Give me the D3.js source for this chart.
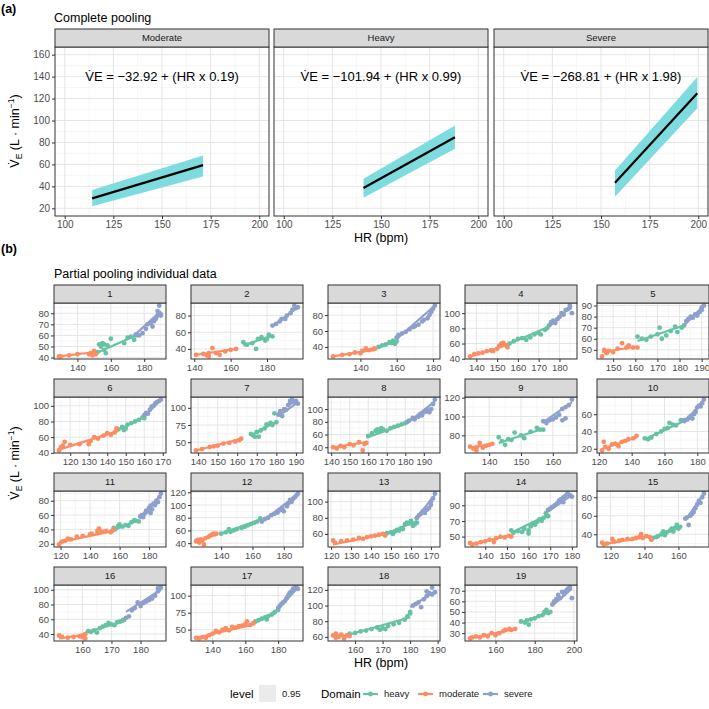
<!DOCTYPE html>
<html>
<head>
<meta charset="utf-8">
<script src="https://cdn.jsdelivr.net/npm/d3@7"></script>
<style>
body { margin: 0; background: #fff; }
text { font-family: "Liberation Sans", Arial, sans-serif; }
</style>
</head>
<body>
<div id="chart-area"></div>
<script>

// ---------- (a) complete pooling ----------
let poolNames = ["Moderate", "Heavy", "Severe"];
let poolEquations = ["\u221232.92 + (HR x 0.19)", "\u2212101.94 + (HR x 0.99)", "\u2212268.81 + (HR x 1.98)"];
// [HR, VE, lower, upper] at each end of the fit
let poolStart = [[114.1, 29.1, 21.8, 36.6], [141, 38.5, 29.7, 47], [157.2, 43.4, 30.6, 54.5]];
let poolEnd = [[171.1, 59.4, 49, 68.2], [188, 84.8, 74.3, 95.5], [199.5, 124.8, 111.2, 139.7]];
let poolXLimits = [95, 205];
let poolYLimits = [13, 167];
let poolXTicks = [100, 125, 150, 175, 200];
let poolYTicks = [20, 40, 60, 80, 100, 120, 140, 160];
let equationPos = [150, 140];

// ---------- (b) partial pooling, one entry per subject ----------
let subjects = ["1", "2", "3", "4", "5", "6", "7", "8", "9", "10", "11", "12", "13", "14", "15", "16", "17", "18", "19"];
let domainNames = ["heavy", "moderate", "severe"];
let domainColors = ["#66C2A5", "#FC8D62", "#8DA0CB"];

let moderatePts = [
	[[129,41],[130,41],[135,42],[140,43],[147,43],[148,44],[149,42],[150,46],[151,43]],
	[[141,33],[145,34],[147,32],[148,31],[148,35],[150,41],[152,35],[154,33],[157,37],[160,39],[163,40]],
	[[125,28],[130,30],[134,31],[137,33],[140,32],[141,35],[143,38],[145,36],[147,37],[148,38]],
	[[137,43],[139,46],[141,47],[143,48],[145,50],[147,51],[148,50],[150,53],[151,57],[152,60],[153,61],[154,58],[155,55]],
	[[145,44],[146,50],[147,47],[148,49],[150,48],[152,51],[154,56],[156,52],[157,54],[159,52],[161,52]],
	[[114,43],[115,47],[116,49],[117,54],[120,50],[125,51],[130,51],[131,55],[133,60],[135,58],[138,62],[140,65],[142,63],[144,66],[145,71]],
	[[139,38],[142,40],[146,43],[148,44],[150,45],[153,48],[156,49],[159,51],[161,53],[162,55]],
	[[141,40],[143,38],[145,42],[147,40],[150,45],[152,43],[155,48],[157,35],[158,45],[159,47]],
	[[134,68],[135,66],[136,64],[136,67],[137,72],[138,67],[139,69],[140,70],[141,71]],
	[[122,18],[123,28],[124,22],[126,20],[128,25],[130,26],[132,23],[134,28],[136,29],[138,31],[141,32],[143,35]],
	[[119,19],[121,23],[123,24],[125,27],[127,26],[131,30],[135,31],[140,33],[141,34],[145,35],[145,38],[146,41],[148,37],[151,38],[154,36],[156,40]],
	[[124,43],[125,45],[126,41],[127,46],[128,44],[129,38],[130,48],[132,50],[133,52],[134,53],[135,55],[136,54],[137,55]],
	[[121,52],[122,49],[125,51],[128,52],[131,53],[134,55],[136,54],[138,56],[140,57],[142,58],[144,59],[146,60],[147,58]],
	[[133,42],[134,40],[136,41],[138,43],[140,44],[142,46],[144,43],[145,48],[147,50],[149,49],[151,51],[152,50]],
	[[115,31],[116,29],[118,30],[121,35],[122,32],[125,33],[127,34],[130,35],[133,35],[135,36],[137,37],[138,40],[139,36],[141,38],[143,37],[144,34]],
	[[152,38],[153,36],[155,35],[157,36],[159,37],[160,36],[160,38],[161,34],[161,40]],
	[[130,38],[132,37],[134,39],[136,38],[138,42],[140,44],[142,48],[144,46],[146,50],[148,52],[150,49],[152,54],[154,53],[156,55],[158,56],[160,58],[161,62],[163,57],[165,60]],
	[[152,62],[153,59],[153,64],[154,60],[155,63],[156,58],[157,62],[158,61]],
	[[147,25],[148,26],[150,27],[152,26],[154,28],[156,27],[158,30],[160,28],[162,30],[164,32],[165,33],[167,34],[168,33],[170,34]]
];

let heavyPts = [
	[[152,45],[153,52],[154,50],[155,53],[156,47],[156,52],[157,44],[158,51],[160,57],[168,53],[170,58],[172,59],[174,56],[175,60]],
	[[167,48],[169,45],[172,47],[174,40],[175,52],[177,54],[179,50],[180,52],[181,57],[183,55]],
	[[150,40],[152,42],[154,43],[156,46],[157,45],[158,48],[159,44],[160,47]],
	[[156,60],[158,63],[160,66],[162,67],[164,65],[166,68],[168,72],[170,74],[171,72],[173,78],[174,80],[175,84]],
	[[161,62],[163,60],[165,59],[167,62],[170,64],[171,70],[172,60],[174,63],[176,67],[178,71],[179,66],[181,70],[182,72]],
	[[146,70],[148,73],[149,69],[150,71],[151,76],[153,78],[155,80],[157,82],[159,85],[160,84]],
	[[167,62],[168,60],[169,58],[170,65],[171,58],[172,67],[174,70],[175,76],[177,78],[178,75],[179,92],[180,79]],
	[[160,58],[162,62],[164,66],[165,68],[166,65],[167,70],[168,68],[170,66],[172,70],[174,72],[176,74],[178,76],[180,78],[181,80]],
	[[143,78],[144,74],[145,70],[146,76],[147,75],[148,83],[150,80],[151,77],[153,84],[155,88],[156,86],[157,86]],
	[[148,32],[150,31],[152,33],[155,37],[158,40],[160,43],[162,44],[163,50],[165,48],[167,47],[170,53],[172,52]],
	[[155,38],[156,42],[157,40],[159,45],[160,47],[162,44],[164,46],[166,45],[168,50],[170,53],[171,52],[173,51]],
	[[140,55],[143,57],[145,62],[146,58],[148,60],[150,62],[153,64],[155,66],[157,68],[159,70],[161,72],[163,74],[165,79]],
	[[148,61],[150,62],[151,60],[152,63],[153,65],[154,64],[155,67],[156,66],[157,72],[158,74],[159,73],[160,76],[161,70],[162,72],[163,74]],
	[[152,58],[153,55],[155,57],[157,56],[158,60],[160,54],[160,58],[161,63],[162,67],[163,65],[164,69],[165,72],[166,70],[167,74],[168,80],[169,76]],
	[[145,36],[147,37],[148,38],[150,40],[151,43],[152,39],[153,42],[155,44],[156,46],[157,43],[158,47],[159,50],[160,46],[161,48]],
	[[162,44],[163,43],[164,45],[165,42],[166,48],[167,50],[168,52],[169,55],[170,53],[171,52],[172,56],[173,57],[174,59]],
	[[166,62],[168,64],[170,66],[172,68],[173,65],[174,70],[176,72],[177,74],[178,76],[180,79]],
	[[158,64],[160,65],[162,67],[164,68],[166,70],[168,72],[169,69],[170,71],[171,70],[172,74],[174,76],[176,78],[178,82],[179,86],[180,90],[180,92]],
	[[173,41],[175,40],[176,42],[177,38],[178,43],[180,44],[182,46],[184,47],[185,50],[186,52],[187,49],[188,50]]
];

let severePts = [
	[[175,61],[177,60],[179,62],[181,66],[182,70],[184,71],[185,68],[186,73],[187,75],[188,78],[188,82],[189,80],[189,87],[190,79],[190,78]],
	[[183,68],[185,70],[187,73],[188,76],[190,76],[191,80],[193,83],[194,87],[195,92],[196,89],[197,90]],
	[[160,52],[161,55],[163,57],[165,59],[167,62],[169,65],[170,66],[172,68],[174,72],[175,74],[177,76],[178,80],[179,84],[180,88],[181,92]],
	[[176,88],[177,90],[178,87],[179,92],[180,95],[181,100],[182,98],[183,104],[184,105],[185,107],[185,110],[186,100]],
	[[183,76],[184,78],[185,80],[186,79],[187,82],[188,81],[189,84],[190,86],[190,88],[191,90]],
	[[160,88],[161,91],[162,90],[163,95],[164,99],[165,100],[166,103],[167,105],[168,106],[169,108]],
	[[181,90],[182,95],[183,88],[184,98],[185,97],[186,104],[187,107],[187,110],[188,112],[189,108],[190,110],[191,106]],
	[[182,82],[184,86],[185,84],[187,88],[188,92],[189,90],[190,95],[191,96],[192,98],[193,95],[194,100],[195,108],[196,115]],
	[[157,95],[158,93],[159,96],[160,97],[161,99],[162,102],[163,96],[163,108],[164,98],[164,110],[165,112],[166,118]],
	[[172,53],[174,54],[175,56],[176,58],[177,55],[178,60],[179,63],[180,68],[181,70],[182,69],[183,73],[184,77]],
	[[174,58],[175,60],[176,57],[177,62],[178,66],[179,65],[180,70],[181,63],[181,73],[182,68],[183,76],[184,74],[185,80],[186,78],[187,85],[188,90]],
	[[166,74],[168,78],[170,80],[172,84],[174,86],[176,88],[178,92],[179,95],[180,90],[182,98],[183,103],[184,108],[185,105],[186,110],[187,112],[188,115],[189,118]],
	[[163,80],[164,83],[165,85],[166,88],[167,86],[168,90],[169,92],[170,96],[170,100],[171,104],[172,110]],
	[[169,84],[170,86],[171,88],[172,90],[173,92],[174,96],[175,98],[176,94],[176,100],[177,102],[178,105],[179,103],[180,101]],
	[[164,57],[165,58],[166,50],[167,60],[168,62],[169,64],[170,68],[171,72],[172,76],[173,74],[174,80],[175,84]],
	[[175,62],[176,64],[177,72],[178,75],[179,83],[180,78],[181,82],[182,84],[183,86],[184,88],[185,92],[186,98],[186,102],[187,103]],
	[[180,82],[181,85],[182,88],[183,90],[184,92],[185,96],[186,100],[187,104],[188,106],[189,110],[190,111],[191,112],[192,110]],
	[[181,100],[182,102],[183,104],[184,98],[185,108],[186,112],[186,118],[187,116],[188,114],[188,123],[189,117]],
	[[189,57],[190,60],[191,62],[192,66],[193,63],[194,69],[195,67],[196,70],[197,72],[198,73],[199,63]]
];

// fitted lines [hr0, ve0, hr1, ve1]
let moderateFit = [[129,41,151,45],[141,33,163,40],[125,28,149,37],[137,43,155,58],[145,48,161,53],[114,44,146,68],[139,38,162,55],[141,40,159,48],[134,67,141,71],[122,20,143,33],[119,22,156,38],[124,42,137,55],[121,47,147,60],[133,40,152,52],[115,29,144,38],[152,34,161,39],[130,38,166,58],[152,62,158,61],[147,25,170,34]];
let heavyFit = [[151,44,175,60],[167,44,183,56],[149,38,160,48],[155,59,175,82],[161,58,182,72],[145,68,160,86],[167,60,180,80],[159,55,181,78],[143,72,157,87],[148,31,172,52],[155,38,173,53],[140,55,166,78],[147,60,163,76],[152,55,169,78],[145,36,161,48],[161,42,175,58],[166,60,180,78],[158,63,180,85],[173,40,188,50]];
let severeFit = [[174,60,190,82],[183,67,197,90],[160,50,181,92],[175,82,186,110],[182,72,191,90],[160,86,169,108],[181,88,191,108],[181,78,196,112],[157,94,166,115],[172,50,184,77],[174,55,188,88],[165,72,189,117],[162,78,172,108],[169,82,180,103],[164,55,175,84],[175,70,187,100],[180,80,192,112],[180,98,189,118],[189,56,199,72]];

let xTickVals = [[140,160,180],[140,160,180],[140,160,180],[140,150,160,170,180],[150,160,170,180,190],[120,130,140,150,160,170],[140,150,160,170,180,190],[140,150,160,170,180,190],[140,150,160],[120,140,160,180],[120,140,160,180],[140,160,180],[120,130,140,150,160,170],[140,150,160,170,180],[120,140,160],[160,170,180],[140,160,180],[160,170,180,190],[160,180,200]];
let yTickVals = [[40,50,60,70,80],[40,60,80],[40,60,80],[40,60,80,100],[50,60,70,80,90],[40,60,80,100],[50,75,100],[40,60,80,100],[80,100,120],[20,40,60],[20,40,60,80],[40,60,80,100,120],[40,60,80,100],[50,70,90,110],[40,60,80],[40,60,80,100],[50,75,100],[60,80,100,120],[30,40,50,60,70]];

// ---------- layout ----------
let svg = d3.select("#chart-area")
	.append("svg")
	.attr("width", 709)
	.attr("height", 709);

let ribbonFill = "#7EDCDF";

function minorOf(ticks, dom) {
	let s = ticks[1] - ticks[0];
	let out = [];
	for (let i = -1; i < ticks.length; i++) {
		let v = ticks[0] + (i + 0.5) * s;
		if (v > dom[0] && v < dom[1]) out.push(v);
	}
	return out;
}

// draws background, grid, strip and axes; returns group for data
function drawFrame(left, top, w, h, x, y, xt, yt, label, fs, showY) {
	let g = svg.append("g").attr("transform", "translate(" + left + "," + top + ")");
	g.append("rect").attr("width", w).attr("height", h).attr("fill", "#fff");

	let grid = g.append("g");
	minorOf(xt, x.domain()).forEach(function(v) {
		grid.append("line").attr("x1", x(v)).attr("x2", x(v)).attr("y1", 0).attr("y2", h)
			.attr("stroke", "#F0F0F0").attr("stroke-width", 0.6);
	});
	minorOf(yt, y.domain()).forEach(function(v) {
		grid.append("line").attr("y1", y(v)).attr("y2", y(v)).attr("x1", 0).attr("x2", w)
			.attr("stroke", "#F0F0F0").attr("stroke-width", 0.6);
	});
	xt.forEach(function(v) {
		grid.append("line").attr("x1", x(v)).attr("x2", x(v)).attr("y1", 0).attr("y2", h)
			.attr("stroke", "#E6E6E6").attr("stroke-width", 1);
	});
	yt.forEach(function(v) {
		grid.append("line").attr("y1", y(v)).attr("y2", y(v)).attr("x1", 0).attr("x2", w)
			.attr("stroke", "#E6E6E6").attr("stroke-width", 1);
	});

	let data = g.append("g");

	g.append("rect").attr("width", w).attr("height", h)
		.attr("fill", "none").attr("stroke", "#333").attr("stroke-width", 1);

	g.append("rect").attr("y", -18).attr("width", w).attr("height", 18)
		.attr("fill", "#D9D9D9").attr("stroke", "#333").attr("stroke-width", 1);
	g.append("text").attr("x", w / 2).attr("y", -9).attr("dy", "0.35em")
		.attr("text-anchor", "middle").attr("font-size", 9.5).attr("fill", "#1A1A1A")
		.text(label);

	let axes = [];
	axes.push(g.append("g").attr("transform", "translate(0," + h + ")")
		.call(d3.axisBottom(x).tickValues(xt).tickSize(3).tickPadding(2)));
	if (showY) {
		axes.push(g.append("g")
			.call(d3.axisLeft(y).tickValues(yt).tickSize(3).tickPadding(2)));
	}
	axes.forEach(function(a) {
		a.select(".domain").remove();
		a.selectAll("line").attr("stroke", "#333");
		a.selectAll("text").attr("fill", "#4D4D4D").attr("font-size", fs)
			.style("font-family", "'Liberation Sans', Arial, sans-serif");
	});
	return data;
}

function veTitle(cx, cy) {
	let t = svg.append("text")
		.attr("transform", "translate(" + cx + "," + cy + ") rotate(-90)")
		.attr("text-anchor", "middle").attr("font-size", 12.5).attr("fill", "#000");
	t.append("tspan").text("V\u0307");
	t.append("tspan").attr("font-size", 8.5).attr("dy", 3).text("E");
	t.append("tspan").attr("dy", -3).text(" (L \u00B7 min");
	t.append("tspan").attr("font-size", 8.5).attr("dy", -5).text("\u22121");
	t.append("tspan").attr("dy", 5).text(")");
}

// ---------- (a) ----------
svg.append("text").attr("x", 1).attr("y", 13).attr("font-size", 12.5).attr("font-weight", "bold").text("(a)");
svg.append("text").attr("x", 54).attr("y", 22).attr("font-size", 12.5).text("Complete pooling");

let topLefts = [55, 274, 494];
let topW = 214, topH = 169, topTop = 47;

poolNames.forEach(function(name, i) {
	let x = d3.scaleLinear().domain(poolXLimits).range([0, topW]);
	let y = d3.scaleLinear().domain(poolYLimits).range([topH, 0]);
	let g = drawFrame(topLefts[i], topTop, topW, topH, x, y, poolXTicks, poolYTicks, name, 10, i === 0);
	let band = [poolStart[i], poolEnd[i]];
	g.append("path")
		.attr("d", d3.area()
			.x(function(d) { return x(d[0]); })
			.y0(function(d) { return y(d[2]); })
			.y1(function(d) { return y(d[3]); })(band))
		.attr("fill", ribbonFill);
	g.append("path")
		.attr("d", d3.line()
			.x(function(d) { return x(d[0]); })
			.y(function(d) { return y(d[1]); })(band))
		.attr("stroke", "#000").attr("stroke-width", 2.2).attr("fill", "none");
	g.append("text")
		.attr("x", x(equationPos[0])).attr("y", y(equationPos[1])).attr("dy", "0.35em")
		.attr("text-anchor", "middle").attr("font-size", 13).attr("fill", "#000")
		.text("V\u0307E = " + poolEquations[i]);
});

veTitle(19, 131);
svg.append("text").attr("x", 381).attr("y", 242).attr("text-anchor", "middle")
	.attr("font-size", 12.5).text("HR (bpm)");

// ---------- (b) ----------
svg.append("text").attr("x", 1).attr("y", 253).attr("font-size", 12.5).attr("font-weight", "bold").text("(b)");
svg.append("text").attr("x", 54).attr("y", 278).attr("font-size", 12.5).text("Partial pooling individual data");

let colLefts = [54, 191, 328, 465, 597];
let rowTops = [303, 397, 491, 585];
let smallW = 112, smallH = 56;

let ptsByDomain = [heavyPts, moderatePts, severePts];
let fitByDomain = [heavyFit, moderateFit, severeFit];

subjects.forEach(function(subj, i) {
	let allX = [], allY = [];
	ptsByDomain.forEach(function(p) { p[i].forEach(function(d) { allX.push(d[0]); allY.push(d[1]); }); });
	fitByDomain.forEach(function(f) { allX.push(f[i][0], f[i][2]); allY.push(f[i][1], f[i][3]); });
	let xe = d3.extent(allX), ye = d3.extent(allY);
	let xp = (xe[1] - xe[0]) * 0.05, yp = (ye[1] - ye[0]) * 0.05;
	let x = d3.scaleLinear().domain([xe[0] - xp, xe[1] + xp]).range([0, smallW]);
	let y = d3.scaleLinear().domain([ye[0] - yp, ye[1] + yp]).range([smallH, 0]);
	let xt = xTickVals[i].filter(function(v) { return v >= x.domain()[0] && v <= x.domain()[1]; });
	let yt = yTickVals[i].filter(function(v) { return v >= y.domain()[0] && v <= y.domain()[1]; });
	let g = drawFrame(colLefts[i % 5], rowTops[Math.floor(i / 5)], smallW, smallH, x, y, xt, yt, subj, 9.5, true);

	domainNames.forEach(function(dn, k) {
		let f = fitByDomain[k][i];
		g.append("line")
			.attr("x1", x(f[0])).attr("y1", y(f[1]))
			.attr("x2", x(f[2])).attr("y2", y(f[3]))
			.attr("stroke", domainColors[k]).attr("stroke-width", 2.2);
		g.selectAll("circle." + dn)
			.data(ptsByDomain[k][i])
			.enter()
			.append("circle")
			.attr("class", dn)
			.attr("cx", function(d) { return x(d[0]); })
			.attr("cy", function(d) { return y(d[1]); })
			.attr("r", 2.4)
			.attr("fill", domainColors[k]);
	});
});

veTitle(19, 463);
svg.append("text").attr("x", 381).attr("y", 667).attr("text-anchor", "middle")
	.attr("font-size", 12.5).text("HR (bpm)");

// ---------- legend ----------
let lg = svg.append("g").attr("transform", "translate(0,694)");
lg.append("text").attr("x", 230).attr("dy", "0.35em").attr("font-size", 11.5).text("level");
lg.append("rect").attr("x", 259).attr("y", -9).attr("width", 17).attr("height", 17).attr("fill", "#EBEBEB");
lg.append("text").attr("x", 282).attr("dy", "0.35em").attr("font-size", 9.5).attr("fill", "#1A1A1A").text("0.95");
lg.append("text").attr("x", 321).attr("dy", "0.35em").attr("font-size", 11.5).text("Domain");
let keyX = [363, 418, 483];
domainNames.forEach(function(dn, k) {
	lg.append("line").attr("x1", keyX[k]).attr("x2", keyX[k] + 15).attr("y1", 0).attr("y2", 0)
		.attr("stroke", domainColors[k]).attr("stroke-width", 2.2);
	lg.append("circle").attr("cx", keyX[k] + 7.5).attr("cy", 0).attr("r", 2.4).attr("fill", domainColors[k]);
	lg.append("text").attr("x", keyX[k] + 21).attr("dy", "0.35em").attr("font-size", 9.5)
		.attr("fill", "#1A1A1A").text(dn);
});

</script>
</body>
</html>
